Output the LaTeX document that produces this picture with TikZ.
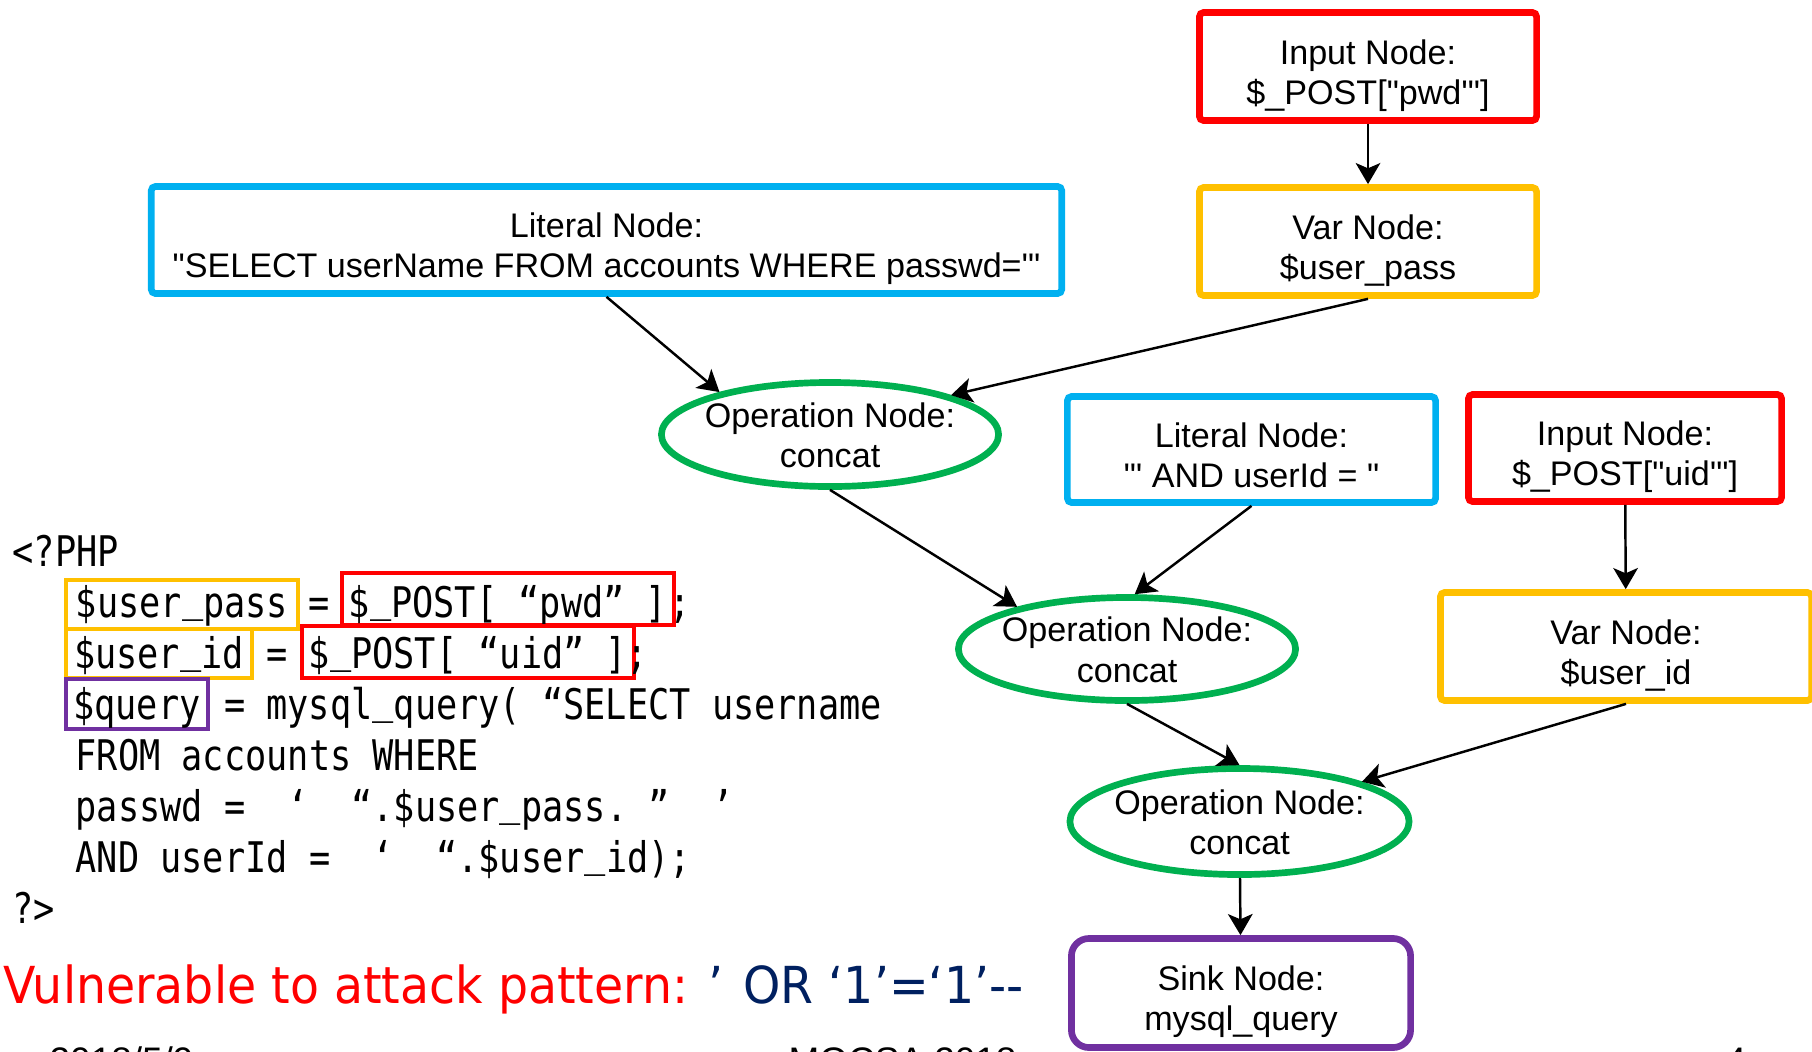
\documentclass[tikz,border=0pt]{standalone}
\usepackage{fontspec}
\usetikzlibrary{shapes.geometric,arrows.meta}

\newfontfamily\graphfont{Liberation Sans}[Ligatures=TeXOff]
\newfontfamily\codefont{DejaVu Sans Mono}[FakeStretch=0.835,Ligatures=TeXOff]
\newfontfamily\notefont{DejaVu Sans}[FakeStretch=0.93,Ligatures=TeXOff]

\definecolor{cred}{HTML}{FF0000}
\definecolor{corange}{HTML}{FFC000}
\definecolor{cblue}{HTML}{00B0F0}
\definecolor{cgreen}{HTML}{00B050}
\definecolor{cpurple}{HTML}{7030A0}
\definecolor{cnavy}{HTML}{002060}

% two centred lines whose first baseline sits #1 above the node centre
\newcommand\nodelines[2]{\smash{\raisebox{#1}{\makebox[0pt]{\begin{tabular}[t]{@{}c@{}}#2\end{tabular}}}}}
% underscore of the source listing, set just below the baseline
\newcommand\us{\raisebox{1.6pt}{\_}}

\begin{document}
\begin{tikzpicture}[x=0.01cm, y=-0.01cm,
  gnode/.style={font={\graphfont\fontsize{9.7}{11.4}\selectfont}, text=black,
    line width=1.9pt, inner sep=0pt},
  gbox/.style={gnode, rectangle, rounded corners=1.2pt},
  inputbox/.style={gbox, draw=cred},
  varbox/.style={gbox, draw=corange},
  litbox/.style={gbox, draw=cblue},
  opnode/.style={gnode, ellipse, draw=cgreen},
  sinkbox/.style={gnode, rectangle, rounded corners=5pt, draw=cpurple},
  flow/.style={-{Stealth[length=6pt,width=7pt,inset=1.5pt]}, line width=0.7pt, black},
  code/.style={font={\codefont\fontsize{12}{15}\selectfont}, inner sep=0pt, anchor=base west},
  cbox/.style={font={\codefont\fontsize{12}{15}\selectfont}, inner sep=0pt, anchor=base,
    line width=1.2pt},
  note/.style={font={\notefont\fontsize{14.5}{17}\selectfont}, inner sep=0pt, anchor=base west},
  foot/.style={font={\graphfont\fontsize{10.5}{12}\selectfont}, inner sep=0pt, anchor=base west}
]
\useasboundingbox (0,0) rectangle (1812,1051);
\clip (0,0) rectangle (1812,1051);
\fill[white] (0,0) rectangle (1812,1051);

% ---- data-flow graph ----
\node[inputbox, minimum width=3.37cm, minimum height=1.08cm] (pwd) at (1368,66.5)
  {\nodelines{0.6pt}{Input Node:\\\$\_POST["pwd'"]}};
\node[varbox, minimum width=3.37cm, minimum height=1.08cm] (uspass) at (1368,241.5)
  {\nodelines{0.6pt}{Var Node:\\\$user\_pass}};
\node[litbox, minimum width=9.10cm, minimum height=1.07cm] (lit1) at (606.5,240)
  {\nodelines{0.6pt}{Literal Node:\\"SELECT userName FROM accounts WHERE passwd='"}};
\node[opnode, minimum width=3.37cm, minimum height=1.04cm] (op1) at (830,434.5)
  {\nodelines{2pt}{Operation Node:\\concat}};
\node[litbox, minimum width=3.68cm, minimum height=1.06cm] (lit2) at (1251.5,449.5)
  {\nodelines{0.6pt}{Literal Node:\\"' AND userId = "}};
\node[inputbox, minimum width=3.13cm, minimum height=1.07cm] (uid) at (1625,448)
  {\nodelines{0.6pt}{Input Node:\\\$\_POST["uid'"]}};
\node[opnode, minimum width=3.37cm, minimum height=1.03cm] (op2) at (1127,649)
  {\nodelines{2pt}{Operation Node:\\concat}};
\node[varbox, minimum width=3.71cm, minimum height=1.08cm] (usid) at (1626,646.5)
  {\nodelines{0.6pt}{Var Node:\\\$user\_id}};
\node[opnode, minimum width=3.39cm, minimum height=1.06cm] (op3) at (1239.5,821.5)
  {\nodelines{2pt}{Operation Node:\\concat}};
\node[sinkbox, minimum width=3.39cm, minimum height=1.09cm] (sink) at (1241,993)
  {\nodelines{0.6pt}{Sink Node:\\mysql\_query}};

\draw[flow] (pwd) -- (uspass);
\draw[flow] (lit1.south) -- (op1.159);
\draw[flow] (uspass.south) -- (op1.18);
\draw[flow] (op1.south) -- (op2.159);
\draw[flow] (lit2.south) -- (op2.82);
\draw[flow] (op2.south) -- (op3.north);
\draw[flow] (uid) -- (usid);
\draw[flow] (usid.south) -- (op3.18);
\draw[flow] (op3) -- (sink);

% ---- PHP source ----
\node[code] (l1) at (12,566) {<?PHP};
\node[cbox, draw=corange, minimum width=2.32cm, text height=0.37cm, text depth=0.12cm]
  (cpass) at (182,617) {\$user\us pass};
\node[code] (eq1) at (308.2,617) {=};
\node[cbox, draw=cred, minimum width=3.32cm, text height=0.44cm, text depth=0.08cm]
  (cpwd) at (508,617) {\$\us POST[~“pwd”~]};
\node[code] (sc1) at (668.6,617) {;};
\node[cbox, draw=corange, minimum width=1.86cm, text height=0.39cm, text depth=0.10cm]
  (cid) at (159,668) {\$user\us id};
\node[code] (eq2) at (265.8,668) {=};
\node[cbox, draw=cred, minimum width=3.32cm, text height=0.42cm, text depth=0.10cm]
  (cuid) at (468,668) {\$\us POST[~“uid”~]};
\node[code] (sc2) at (626.2,668) {;};
\node[cbox, draw=cpurple, minimum width=1.42cm, text height=0.40cm, text depth=0.10cm]
  (cquery) at (137,719) {\$query};
\node[code] (l4) at (223.4,719) {=~mysql\us query(~“SELECT~username};
\node[code] (l5) at (75,770) {FROM~accounts~WHERE};
\node[code] (l6) at (75,821) {passwd~=~~‘~~“.\$user\us pass.~”~~’};
\node[code] (l7) at (75,872) {AND~userId~=~~‘~~“.\$user\us id);};
\node[code] (l8) at (12,923) {?>};

% ---- attack pattern ----
\node[note, text=cred] (attack) at (3,1003)
  {Vulnerable to attack pattern: \textcolor{cnavy}{’ OR ‘1’=‘1’--}};

% ---- slide footer, running off the lower edge ----
\node[foot] (date) at (49,1073) {2018/5/9};
\node[foot] (venue) at (788,1073) {MOCSA 2018};
\node[foot] (page) at (1725,1073) {4};
\end{tikzpicture}
\end{document}
